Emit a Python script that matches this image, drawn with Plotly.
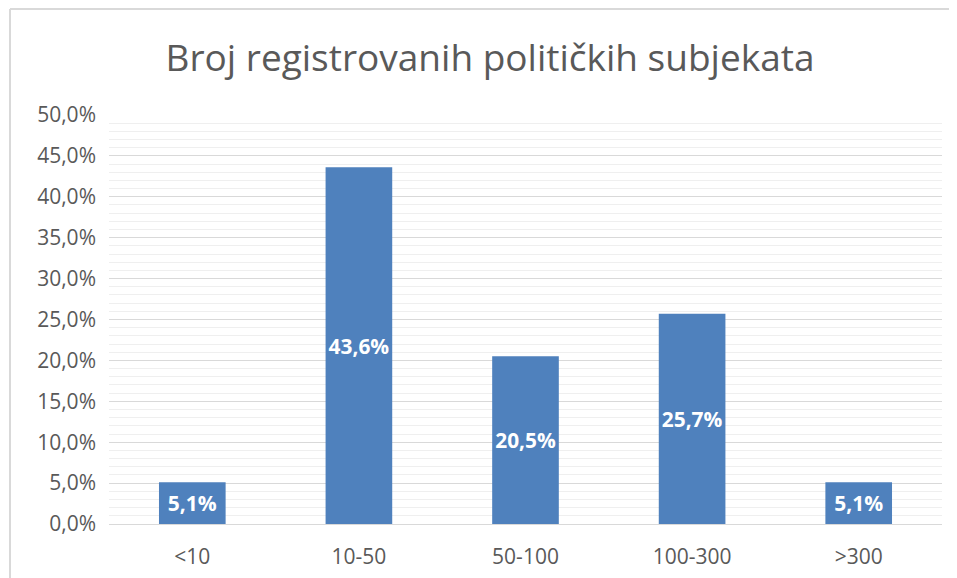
import plotly.graph_objects as go

categories = ["<10", "10-50", "50-100", "100-300", ">300"]
values = [5.1, 43.6, 20.5, 25.7, 5.1]
title_text = "Broj registrovanih političkih subjekata"

W, H = 957, 578
OFF = 8  # page body offset
ml, mr, mt, mb = 109 - OFF, 15 + OFF, 115 - OFF, 54 + OFF
pw, ph = W - ml - mr, H - mt - mb

fig = go.Figure(go.Bar(
    x=categories, y=values,
    marker=dict(color="#4f81bd", line=dict(width=0)),
    texttemplate="%{y:.1f}%", textposition="inside", insidetextanchor="middle",
    textfont=dict(family="Open Sans", size=21, color="white", weight="bold"),
    textangle=0,
))

fig.update_layout(
    width=W, height=H,
    margin=dict(l=ml, r=mr, t=mt, b=mb),
    paper_bgcolor="white", plot_bgcolor="white",
    separators=", ",
    bargap=0.6,
    showlegend=False,
    title=dict(text=title_text, x=(490 - OFF) / W, xanchor="center", y=1 - (58 - OFF) / H, yanchor="middle",
               font=dict(family="Open Sans", size=37, color="#595959")),
    xaxis=dict(tickfont=dict(family="Open Sans", size=21, color="#595959"),
               showline=False, ticks="", showgrid=False, ticklabelstandoff=18),
    yaxis=dict(range=[0, 50], dtick=5, tickformat=".1f", ticksuffix="%",
               tickfont=dict(family="Open Sans", size=21, color="#595959"),
               showgrid=True, gridcolor="#d9d9d9", gridwidth=1,
               zeroline=True, zerolinecolor="#d9d9d9", zerolinewidth=1,
               ticks="", showline=False, ticklabelstandoff=12,
               minor=dict(dtick=1, showgrid=True, gridcolor="#efefef", gridwidth=1, ticks="")),
)

# chart frame (top and left edges)
x_left = (10 - OFF - ml) / pw
y_top = 1 + (mt - (9 - OFF)) / ph
fig.add_shape(type="line", xref="paper", yref="paper", x0=x_left, x1=(W - ml) / pw, y0=y_top, y1=y_top,
              line=dict(color="#d9d9d9", width=2))
fig.add_shape(type="line", xref="paper", yref="paper", x0=x_left, x1=x_left, y0=y_top, y1=-(mb) / ph,
              line=dict(color="#d9d9d9", width=2))

fig.write_html("out.html")
